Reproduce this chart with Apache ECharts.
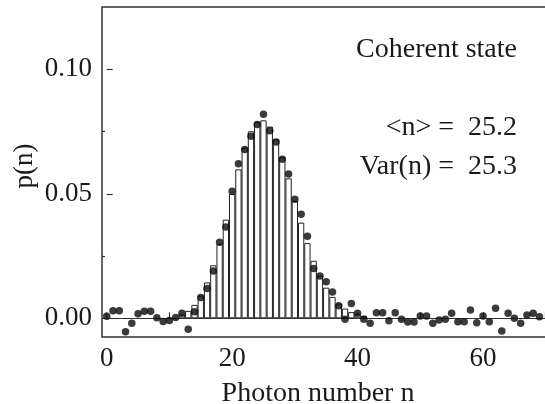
<!DOCTYPE html>
<html>
<head>
<meta charset="utf-8">
<script src="https://cdn.jsdelivr.net/npm/echarts@6/dist/echarts.min.js"></script>
<style>html,body{margin:0;padding:0;background:#fff;}#c{width:545px;height:404px;}</style>
</head>
<body>
<div id="c"></div>
<script>
// Histogram (theoretical distribution) bars
const barN = [12,13,14,15,16,17,18,19,20,21,22,23,24,25,26,27,28,29,30,31,32,33,34,35,36,37,38,39,40,41];
const barP = [0.0016,0.0030,0.0054,0.0091,0.0144,0.0213,0.0298,0.0396,0.0499,0.0598,0.0685,0.0751,0.0788,0.0795,0.0770,0.0719,0.0647,0.0562,0.0472,0.0384,0.0302,0.0231,0.0171,0.0123,0.0086,0.0059,0.0039,0.0025,0.0016,0.0010];

// Measured points
const pointN = [];
for (let i = 0; i < 70; i++) pointN.push(i);
const pointP = [0.0008,0.0030,0.0030,-0.0054,-0.0020,0.0018,0.0028,0.0028,0.0002,-0.0013,
  -0.0009,0.0003,0.0020,-0.0044,0.0026,0.0084,0.0120,0.0190,0.0305,0.0367,
  0.0510,0.0621,0.0678,0.0731,0.0778,0.0819,0.0753,0.0708,0.0639,0.0579,
  0.0478,0.0418,0.0330,0.0200,0.0170,0.0147,0.0106,0.0050,-0.0004,0.0060,
  0.0020,-0.0004,-0.0020,0.0022,0.0022,-0.0010,0.0022,-0.0004,-0.0015,-0.0015,
  0.0009,0.0009,-0.0020,-0.0007,-0.0004,0.0020,-0.0014,-0.0014,0.0033,-0.0018,
  0.0009,-0.0014,0.0040,-0.0051,0.0020,0.0000,-0.0020,0.0013,0.0020,0.0006];

const xTicks = [0,10,20,30,40,50,60,70];
const xLabels = [0,20,40,60];
const yTicks = [0,0.05,0.10];
const yMinorTicks = [0.025,0.075];

const FONT = '"Liberation Serif", "Times New Roman", serif';
const TXT = '#1a1a1a';

const chart = echarts.init(document.getElementById('c'), null, {renderer: 'canvas'});
chart.setOption({
  animation: false,
  backgroundColor: '#fff',
  grid: {left: 102, top: 7, right: -7, bottom: 67, outerBoundsMode: 'none', containLabel: false,
    show: true, borderColor: '#333', borderWidth: 1.5, backgroundColor: 'transparent'},
  xAxis: {
    type: 'value', min: -0.75, max: 71,
    axisLine: {show: false},
    splitLine: {show: false},
    axisTick: {show: true, inside: true, length: 6, customValues: xTicks, lineStyle: {color: '#333', width: 1.2}},
    axisLabel: {customValues: xLabels, margin: 8, fontSize: 27, fontFamily: FONT, color: TXT}
  },
  yAxis: [{
    type: 'value', min: -0.0075, max: 0.125,
    axisLine: {show: false},
    splitLine: {show: false},
    axisTick: {show: true, inside: true, length: 6, customValues: yTicks, lineStyle: {color: '#333', width: 1.2}},
    axisLabel: {customValues: yTicks, margin: 10, fontSize: 27, fontFamily: FONT, color: TXT,
      formatter: v => v.toFixed(2)}
  }, {
    type: 'value', min: -0.0075, max: 0.125, position: 'left',
    axisLine: {show: false},
    splitLine: {show: false},
    axisTick: {show: true, inside: true, length: 3, customValues: yMinorTicks, lineStyle: {color: '#333', width: 1.2}},
    axisLabel: {show: false}
  }],
  series: [{
    type: 'bar',
    data: barN.map((n, i) => [n, barP[i]]),
    barWidth: 6.3,
    itemStyle: {color: '#fff', borderColor: '#222', borderWidth: 1},
    z: 2,
    markLine: {
      silent: true, symbol: 'none', label: {show: false},
      lineStyle: {color: '#333', width: 1.2, type: 'solid'},
      data: [{yAxis: 0}]
    }
  }, {
    type: 'scatter',
    data: pointN.map((n, i) => [n, pointP[i]]),
    symbol: 'circle',
    symbolSize: 7.5,
    itemStyle: {color: '#0a0a0a'},
    z: 5
  }],
  graphic: [
    {type: 'text', x: 517, y: 50, style: {text: 'Coherent state', font: '28px ' + FONT, fill: TXT, textAlign: 'right', textVerticalAlign: 'middle'}},
    {type: 'text', x: 517, y: 128, style: {text: '<n> =  25.2', font: '28px ' + FONT, fill: TXT, textAlign: 'right', textVerticalAlign: 'middle'}},
    {type: 'text', x: 517, y: 167, style: {text: 'Var(n) =  25.3', font: '28px ' + FONT, fill: TXT, textAlign: 'right', textVerticalAlign: 'middle'}},
    {type: 'text', x: 318, y: 394, style: {text: 'Photon number n', font: '28px ' + FONT, fill: TXT, textAlign: 'center', textVerticalAlign: 'middle'}},
    {type: 'text', x: 25, y: 166, rotation: Math.PI / 2, style: {text: 'p(n)', font: '27px ' + FONT, fill: TXT, textAlign: 'center', textVerticalAlign: 'middle'}}
  ]
});
</script>
</body>
</html>
